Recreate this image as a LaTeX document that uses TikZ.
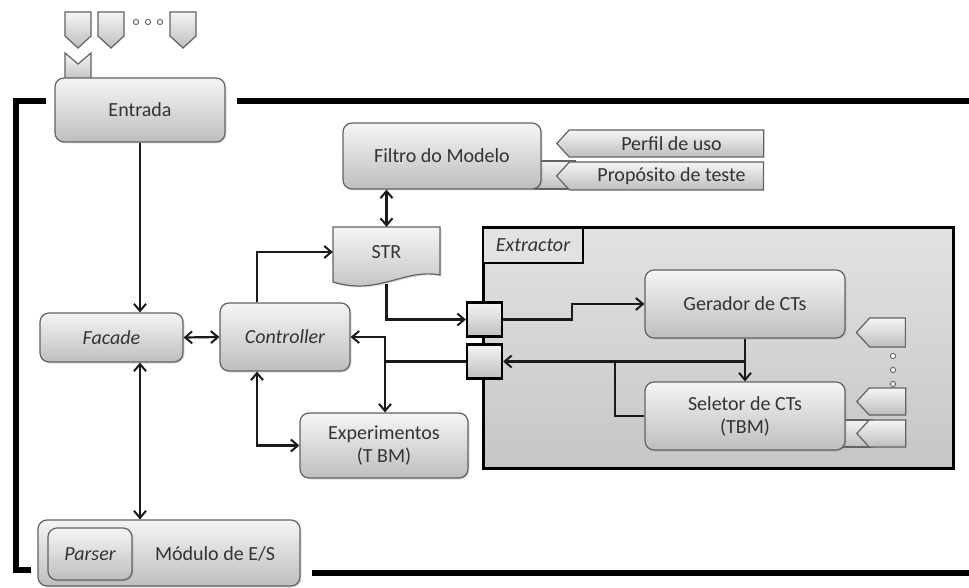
\documentclass[tikz,border=0pt]{standalone}
\usepackage{fontspec}
\setmainfont{Carlito}
\usetikzlibrary{shapes.symbols,shadows,arrows.meta,calc}

\definecolor{txt}{HTML}{333333}
\definecolor{edge}{HTML}{626262}
\definecolor{lite}{HTML}{F5F5F5}
\definecolor{dark}{HTML}{BEBEBE}
\definecolor{wire}{HTML}{1A1A1A}
\definecolor{xlite}{HTML}{E2E2E2}
\definecolor{xdark}{HTML}{C6C6C6}

\tikzset{
  lbl/.style={text=txt, font=\fontsize{20}{23}\selectfont, align=center},
  itl/.style={font=\fontsize{20}{23}\selectfont\itshape},
  box/.style={lbl, draw=edge, line width=1.2pt, rounded corners=9pt,
    top color=lite, bottom color=dark, inner sep=0pt,
    drop shadow={shadow xshift=1.5pt, shadow yshift=-1.5pt, opacity=0.25}},
  tag/.style={lbl, draw=edge, line width=1.2pt, top color=lite, bottom color=dark,
    signal, signal to=west, signal pointer angle=95, inner sep=0pt},
  flat/.style={draw=edge, line width=1.2pt, top color=lite, bottom color=dark},
  port/.style={draw=black, line width=2.2pt, top color=lite, bottom color=dark,
    inner sep=0pt, minimum width=35pt, minimum height=34pt},
  wireln/.style={draw=wire, line width=2.2pt},
  tip/.tip={Straight Barb[length=7pt,width=12pt,line width=2pt]},
  arr/.style={wireln, -tip},
  darr/.style={wireln, tip-tip},
  frame/.style={draw=black, line width=6pt},
}

\begin{document}
\begin{tikzpicture}[x=1pt, y=-1pt]
\useasboundingbox (0,0) rectangle (969,588);

% outer system frame
\draw[frame] (46,101) -- (16,101) -- (16,570) -- (31,570);
\draw[frame] (237,101) -- (969,101);
\draw[frame] (312,573) -- (969,573);

% input tokens above Entrada
\foreach \x in {65,98,170} {
  \path[flat] (\x,12) -- (\x+26,12) -- (\x+26,36) -- (\x+13,48) -- (\x,36) -- cycle;
}
\foreach \x in {136,148,160} {
  \draw[edge, line width=0.9pt, fill=white] (\x,22) circle (2.6);
}
\path[flat] (65,53) -- (78,64) -- (91,53) -- (91,82) -- (65,82) -- cycle;

% main blocks
\node[box, minimum width=170pt, minimum height=64pt] (entrada) at (140,110) {Entrada};
\node[box, itl, minimum width=143pt, minimum height=49pt] (facade) at (111.5,337.5) {Facade};
\node[box, itl, minimum width=130pt, minimum height=68pt] (controller) at (285,337) {Controller};
\node[box, minimum width=168pt, minimum height=65pt] (experimentos) at (384,445.5) {Experimentos\\(T BM)};
\node[box, minimum width=262pt, minimum height=66pt] (modulo) at (169,553) {};
\node[lbl] (modtext) at (215,554) {Módulo de E/S};
\node[box, itl, minimum width=84pt, minimum height=52pt, drop shadow={opacity=0}] (parser) at (90,554) {Parser};

% model filter and its inputs
\path[flat] (535,161) rectangle (575,189);
\node[box, minimum width=198pt, minimum height=66pt] (filtro) at (442,156) {Filtro do Modelo};
\node[tag, minimum width=207pt, minimum height=27pt] (perfil) at (666.5,143.5) {\hspace*{10pt}Perfil de uso};
\node[tag, minimum width=207pt, minimum height=28pt] (proposito) at (666.5,176) {\hspace*{10pt}Propósito de teste};

% STR document
\node[minimum width=107pt, minimum height=50pt, inner sep=0pt] (str) at (386.5,252) {};
\path[flat, drop shadow={shadow xshift=1.5pt, shadow yshift=-1.5pt, opacity=0.25}]
  (333,227) -- (440,227) -- (440,275) .. controls (405,268) and (378,296) .. (333,282) -- cycle;
\node[lbl] (strtext) at (str.center) {STR};

% extractor container
\node[draw=black, line width=3pt, top color=xlite, bottom color=xdark,
      minimum width=470pt, minimum height=240pt, inner sep=0pt] (extractor) at (718,348) {};
\node[lbl, itl, draw=black, line width=2.4pt, fill=xlite, minimum width=100pt, minimum height=35pt,
      text depth=0pt] (xlabel) at (533,245.5) {Extractor};

\node[box, minimum width=200pt, minimum height=68pt] (gerador) at (745,304) {Gerador de CTs};
\path[flat] (840,420) rectangle (872,447);
\node[box, minimum width=200pt, minimum height=68pt] (seletor) at (745,416) {Seletor de CTs\\(TBM)};

% selector inputs
\node[tag, minimum width=49pt, minimum height=29pt] (in1) at (887.5,332.5) {};
\node[tag, minimum width=49pt, minimum height=27pt] (in2) at (887.5,401.5) {};
\node[tag, minimum width=49pt, minimum height=27pt] (in3) at (887.5,433.5) {};
\foreach \y in {356,370,384} {
  \draw[edge, line width=0.9pt, fill=white] (893,\y) circle (2.6);
}

% ports on the extractor border
\node[port] (port1) at (484.5,319.5) {};
\node[port] (port2) at (484.5,361.5) {};

% connectors
\coordinate (tap) at (385,361.5);
\coordinate (bend) at (572,319.5);
\coordinate (sjoin) at (615,361.5);

\draw[arr] (entrada.south) -- (facade.north -| entrada.south);
\draw[darr] (facade.south -| entrada.south) -- (modulo.north -| entrada.south);
\draw[darr] (facade.east) -- (controller.west);
\draw[arr] ([xshift=-28pt]controller.north) |- (str.west);
\draw[darr] ([xshift=-28pt]controller.south) |- (experimentos.west);
\draw[darr] (str.north |- filtro.south) -- (str.north);
\draw[arr] ([yshift=-32pt]str.center) |- (port1.west);
\draw[arr] (port1.east) -- (bend) |- (gerador.west);
\draw[arr] (gerador.south) -- (seletor.north);
\draw[arr] (gerador.south |- port2.east) -- (port2.east);
\draw[wireln] (seletor.west) -| (sjoin);
\draw[wireln] (port2.west) -- (tap);
\draw[arr] (tap) |- (controller.east);
\draw[arr] (tap) -- (experimentos.north -| tap);

\end{tikzpicture}
\end{document}
